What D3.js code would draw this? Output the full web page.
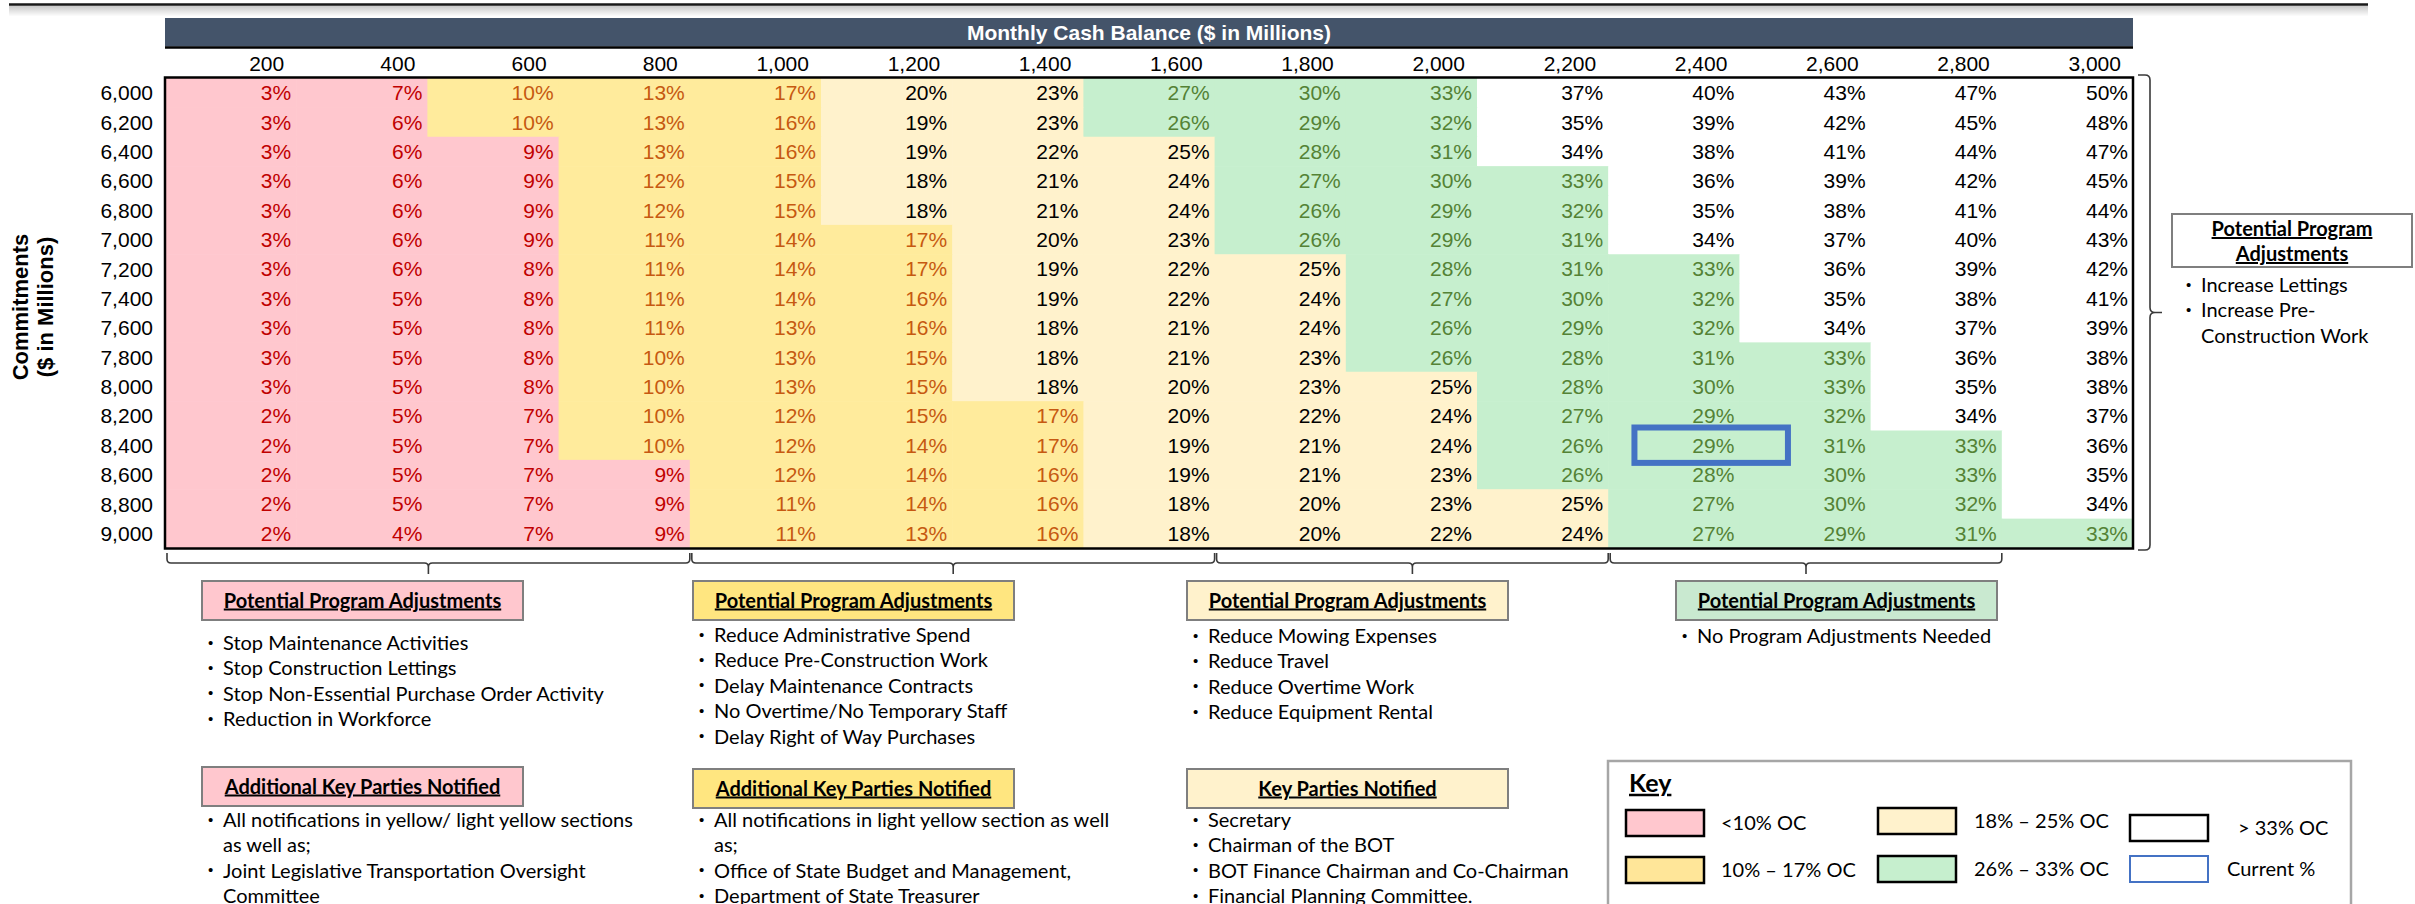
<!DOCTYPE html>
<html><head><meta charset="utf-8">
<script src="https://cdn.jsdelivr.net/npm/d3@7"></script>
<style>
html,body{margin:0;padding:0;background:#fff;}
svg{display:block;}
</style></head>
<body><svg id="chart" width="2415" height="904"></svg>
<script>
// ---------------- DATA ----------------
const cashBalance = [200,400,600,800,1000,1200,1400,1600,1800,2000,2200,2400,2600,2800,3000];
const commitments = [6000,6200,6400,6600,6800,7000,7200,7400,7600,7800,8000,8200,8400,8600,8800,9000];
const ocPercent = [
  [3,7,10,13,17,20,23,27,30,33,37,40,43,47,50],
  [3,6,10,13,16,19,23,26,29,32,35,39,42,45,48],
  [3,6,9,13,16,19,22,25,28,31,34,38,41,44,47],
  [3,6,9,12,15,18,21,24,27,30,33,36,39,42,45],
  [3,6,9,12,15,18,21,24,26,29,32,35,38,41,44],
  [3,6,9,11,14,17,20,23,26,29,31,34,37,40,43],
  [3,6,8,11,14,17,19,22,25,28,31,33,36,39,42],
  [3,5,8,11,14,16,19,22,24,27,30,32,35,38,41],
  [3,5,8,11,13,16,18,21,24,26,29,32,34,37,39],
  [3,5,8,10,13,15,18,21,23,26,28,31,33,36,38],
  [3,5,8,10,13,15,18,20,23,25,28,30,33,35,38],
  [2,5,7,10,12,15,17,20,22,24,27,29,32,34,37],
  [2,5,7,10,12,14,17,19,21,24,26,29,31,33,36],
  [2,5,7,9,12,14,16,19,21,23,26,28,30,33,35],
  [2,5,7,9,11,14,16,18,20,23,25,27,30,32,34],
  [2,4,7,9,11,13,16,18,20,22,24,27,29,31,33]
];
const currentCommitment = 8400;
const currentCash = 2400;
const bandThresholds = [10,18,26,34];
const bandFills = ["#FFC7CE","#FFEB9C","#FFF2CC","#C6EFCE","#FFFFFF"];
const bandTextColors = ["#C00000","#C65911","#000000","#548235","#000000"];
const headerTitle = "Monthly Cash Balance ($ in Millions)";
const axisTitleLines = ["Commitments","($ in Millions)"];

const groupFirstCol = [200,1000,1800,2400];
const groupLastCol  = [800,1600,2200,2800];
const groupBoxFills = ["#FFC7CE","#FFE680","#FFF2CC","#C9E9D0"];
const groupTitles = ["Potential Program Adjustments","Potential Program Adjustments","Potential Program Adjustments","Potential Program Adjustments"];
const groupItems = [
  [["Stop Maintenance Activities"],["Stop Construction Lettings"],["Stop Non-Essential Purchase Order Activity"],["Reduction in Workforce"]],
  [["Reduce Administrative Spend"],["Reduce Pre-Construction Work"],["Delay Maintenance Contracts"],["No Overtime/No Temporary Staff"],["Delay Right of Way Purchases"]],
  [["Reduce Mowing Expenses"],["Reduce Travel"],["Reduce Overtime Work"],["Reduce Equipment Rental"]],
  [["No Program Adjustments Needed"]]
];
const notifyTitles = ["Additional Key Parties Notified","Additional Key Parties Notified","Key Parties Notified"];
const notifyItems = [
  [["All notifications in yellow/ light yellow sections","as well as;"],["Joint Legislative Transportation Oversight","Committee"]],
  [["All notifications in light yellow section as well","as;"],["Office of State Budget and Management,"],["Department of State Treasurer"]],
  [["Secretary"],["Chairman of the BOT"],["BOT Finance Chairman and Co-Chairman"],["Financial Planning Committee."]]
];
const sideTitleLines = ["Potential Program","Adjustments"];
const sideItems = [["Increase Lettings"],["Increase Pre-","Construction Work"]];
const keyTitle = "Key";
const keyLabels = ["<10% OC","10% \u2013 17% OC","18% \u2013 25% OC","26% \u2013 33% OC","> 33% OC","Current %"];
const keySwatchFills = ["#FFC7CE","#FFE699","#FFF2CC","#C6EFCE","#FFFFFF","#FFFFFF"];

// ---------------- LAYOUT ----------------
const L = {
  tableLeft:165, tableRight:2133, tableTop:78, tableBottom:548,
  headerTop:18, headerBottom:46.5, colLabelY:63,
  numFont:'"Liberation Sans", Arial, sans-serif', numSize:21,
  textFont:'Lato, "Noto Sans", sans-serif', textSize:20,
  boxX:[202,693,1187,1676], boxTop:581, boxW:321, boxH:39,
  itemFirstY:[643,635,636,636], lineStep:25.4,
  notifyTop:[767,769,769], notifyFirstY:820,
  keyBox:{x:1608,y:761,w:743,h:160},
  keyPos:[{x:1626,y:810,tx:1721},{x:1626,y:857,tx:1721},{x:1878,y:808,tx:1974},{x:1878,y:856,tx:1974},{x:2130,y:815,tx:2238},{x:2130,y:856,tx:2227}],
  swW:78, swH:26
};

const svg = d3.select('#chart');
const defs = svg.append('defs');
const grad = defs.append('linearGradient').attr('id','shadow').attr('x1',0).attr('x2',0).attr('y1',0).attr('y2',1);
grad.append('stop').attr('offset','0%').attr('stop-color','#000').attr('stop-opacity',0.22);
grad.append('stop').attr('offset','100%').attr('stop-color','#000').attr('stop-opacity',0);

// top rule with shadow
svg.append('rect').attr('x',9).attr('y',5.5).attr('width',2359).attr('height',11).attr('fill','url(#shadow)');
svg.append('line').attr('x1',9).attr('x2',2368).attr('y1',4.5).attr('y2',4.5).attr('stroke','#1a1a1a').attr('stroke-width',2.5);

const x = d3.scaleBand().domain(cashBalance).range([L.tableLeft, L.tableRight]);
const y = d3.scaleBand().domain(commitments).range([L.tableTop, L.tableBottom]);
const band = d3.scaleThreshold().domain(bandThresholds).range(d3.range(bandFills.length));
const bw = x.bandwidth(), bh = y.bandwidth();

// header bar
svg.append('rect').attr('x',L.tableLeft).attr('y',L.headerTop).attr('width',L.tableRight-L.tableLeft).attr('height',L.headerBottom-L.headerTop).attr('fill','#44546A');
svg.append('line').attr('x1',L.tableLeft).attr('x2',L.tableRight).attr('y1',L.headerBottom+1).attr('y2',L.headerBottom+1).attr('stroke','#000').attr('stroke-width',2.5);
svg.append('text').attr('x',(L.tableLeft+L.tableRight)/2).attr('y',(L.headerTop+L.headerBottom)/2).attr('dy','0.36em')
  .attr('text-anchor','middle').attr('fill','#fff').attr('font-family',L.numFont).attr('font-weight','bold').attr('font-size',21)
  .text(headerTitle);

// cells
const cells = [];
commitments.forEach((c,i)=>cashBalance.forEach((b,j)=>cells.push({c,b,v:ocPercent[i][j]})));
const cg = svg.append('g');
cg.selectAll('rect').data(cells).join('rect')
  .attr('x',d=>x(d.b)).attr('y',d=>y(d.c)).attr('width',bw+0.6).attr('height',bh+0.6)
  .attr('fill',d=>bandFills[band(d.v)]);
cg.selectAll('text').data(cells).join('text')
  .attr('x',d=>x(d.b)+bw-5).attr('y',d=>y(d.c)+bh/2).attr('dy','0.36em')
  .attr('text-anchor','end').attr('font-family',L.numFont).attr('font-size',L.numSize)
  .attr('fill',d=>bandTextColors[band(d.v)]).text(d=>d.v+'%');

// table border
svg.append('rect').attr('x',L.tableLeft).attr('y',L.tableTop-0.5).attr('width',L.tableRight-L.tableLeft).attr('height',L.tableBottom-L.tableTop+1)
  .attr('fill','none').attr('stroke','#000').attr('stroke-width',2.5);

// column axis
const xg = svg.append('g').attr('transform',`translate(0,${L.colLabelY})`)
  .call(d3.axisTop(x).tickSize(0).tickPadding(0).tickFormat(d3.format(',')));
xg.select('.domain').remove();
xg.attr('font-family',L.numFont).attr('font-size',L.numSize);
xg.selectAll('text').attr('text-anchor','end').attr('x',bw/2-12).attr('y',0).attr('dy','0.36em').attr('fill','#000');

// row axis
const yg = svg.append('g').attr('transform',`translate(${L.tableLeft},0)`)
  .call(d3.axisLeft(y).tickSize(0).tickPadding(12).tickFormat(d3.format(',')));
yg.select('.domain').remove();
yg.attr('font-family',L.numFont).attr('font-size',L.numSize);
yg.selectAll('text').attr('dy','0.36em').attr('fill','#000');

// axis title
const ym = (L.tableTop+L.tableBottom)/2 - 6;
axisTitleLines.forEach((t,i)=>{
  svg.append('text').attr('transform',`translate(${20+i*25},${ym}) rotate(-90)`).attr('dy','0.36em')
    .attr('text-anchor','middle').attr('font-family',L.numFont).attr('font-weight','bold').attr('font-size',22).attr('fill','#000').text(t);
});

// current % marker
svg.append('rect').attr('x',x(currentCash)+0.2*bw).attr('y',y(currentCommitment)-3).attr('width',1.17*bw).attr('height',bh+6)
  .attr('fill','none').attr('stroke','#4472C4').attr('stroke-width',6);

// braces
function hBrace(x1,x2,yTop,yLine,yTip){
  const xm=(x1+x2)/2, r=4;
  return `M${x1},${yTop} L${x1},${yLine-r} Q${x1},${yLine} ${x1+r},${yLine} L${xm-r},${yLine} Q${xm},${yLine} ${xm},${yLine+r} L${xm},${yTip} M${xm},${yLine+r} Q${xm},${yLine} ${xm+r},${yLine} L${x2-r},${yLine} Q${x2},${yLine} ${x2},${yLine-r} L${x2},${yTop}`;
}
function vBrace(xEnd,xLine,xTip,y1,y2){
  const m=(y1+y2)/2, r=5;
  return `M${xEnd},${y1} L${xLine-r},${y1} Q${xLine},${y1} ${xLine},${y1+r} L${xLine},${m-r} Q${xLine},${m} ${xLine+r},${m} L${xTip},${m} M${xLine+r},${m} Q${xLine},${m} ${xLine},${m+r} L${xLine},${y2-r} Q${xLine},${y2} ${xLine-r},${y2} L${xEnd},${y2}`;
}
const braceG = svg.append('g').attr('fill','none').attr('stroke','#3a3a3a').attr('stroke-width',1.6);
groupFirstCol.forEach((c,i)=>{
  braceG.append('path').attr('d',hBrace(x(c)+2, x(groupLastCol[i])+bw, L.tableBottom+5, L.tableBottom+15, L.tableBottom+26));
});
braceG.append('path').attr('d',vBrace(L.tableRight+5, L.tableRight+17, L.tableRight+29, L.tableTop-3, L.tableBottom+2));

// text helpers
function titleText(g,xc,yc,t,size){
  g.append('text').attr('x',xc).attr('y',yc).attr('dy','0.35em').attr('text-anchor','middle')
   .attr('font-family',L.textFont).attr('font-weight','bold').attr('font-size',size||L.textSize)
   .attr('text-decoration','underline').attr('fill','#000').text(t);
}
function bulletList(g,x0,y0,items){
  let k=0;
  items.forEach(lines=>{
    lines.forEach((ln,li)=>{
      const yy=y0+k*L.lineStep;
      if(li===0) g.append('text').attr('x',x0+1).attr('y',yy).attr('dy','0.3em').attr('font-family','"Liberation Sans", Arial, sans-serif').attr('font-size',15).attr('fill','#000').text('\u2022');
      g.append('text').attr('x',x0+16).attr('y',yy).attr('dy','0.35em').attr('font-family',L.textFont).attr('font-size',L.textSize).attr('fill','#000').text(ln);
      k++;
    });
  });
}

// group boxes
const bg = svg.append('g');
groupTitles.forEach((t,i)=>{
  const bx=L.boxX[i];
  bg.append('rect').attr('x',bx).attr('y',L.boxTop).attr('width',L.boxW).attr('height',L.boxH).attr('fill',groupBoxFills[i]).attr('stroke','#7f7f7f').attr('stroke-width',2);
  titleText(bg,bx+L.boxW/2,L.boxTop+L.boxH/2,t);
  bulletList(bg,bx+5,L.itemFirstY[i],groupItems[i]);
  if(i<notifyTitles.length){
    bg.append('rect').attr('x',bx).attr('y',L.notifyTop[i]).attr('width',L.boxW).attr('height',L.boxH).attr('fill',groupBoxFills[i]).attr('stroke','#7f7f7f').attr('stroke-width',2);
    titleText(bg,bx+L.boxW/2,L.notifyTop[i]+L.boxH/2,notifyTitles[i]);
    bulletList(bg,bx+5,L.notifyFirstY,notifyItems[i]);
  }
});

// side box
const sx=L.tableRight+39, sy=214, sw=240, sh=53;
bg.append('rect').attr('x',sx).attr('y',sy).attr('width',sw).attr('height',sh).attr('fill','#fff').attr('stroke','#7f7f7f').attr('stroke-width',2);
sideTitleLines.forEach((t,i)=>titleText(bg,sx+sw/2,sy+15+i*25,t));
bulletList(bg,sx+13,285,sideItems);

// key
const kb=L.keyBox;
const kg=svg.append('g');
kg.append('rect').attr('x',kb.x).attr('y',kb.y).attr('width',kb.w).attr('height',kb.h).attr('fill','#fff').attr('stroke','#a6a6a6').attr('stroke-width',2.5);
kg.append('text').attr('x',kb.x+21).attr('y',kb.y+22).attr('dy','0.35em').attr('font-family',L.textFont).attr('font-weight','bold')
  .attr('font-size',25).attr('text-decoration','underline').attr('fill','#000').text(keyTitle);
keyLabels.forEach((lab,i)=>{
  const p=L.keyPos[i];
  const isCurrent = i===keyLabels.length-1;
  kg.append('rect').attr('x',p.x).attr('y',p.y).attr('width',L.swW).attr('height',L.swH).attr('fill',keySwatchFills[i])
    .attr('stroke',isCurrent?'#4472C4':'#000').attr('stroke-width',isCurrent?2:2.5);
  kg.append('text').attr('x',p.tx).attr('y',p.y+L.swH/2).attr('dy','0.35em').attr('font-family',L.textFont).attr('font-size',L.textSize).attr('fill','#000').text(lab);
});
</script>
</body></html>
